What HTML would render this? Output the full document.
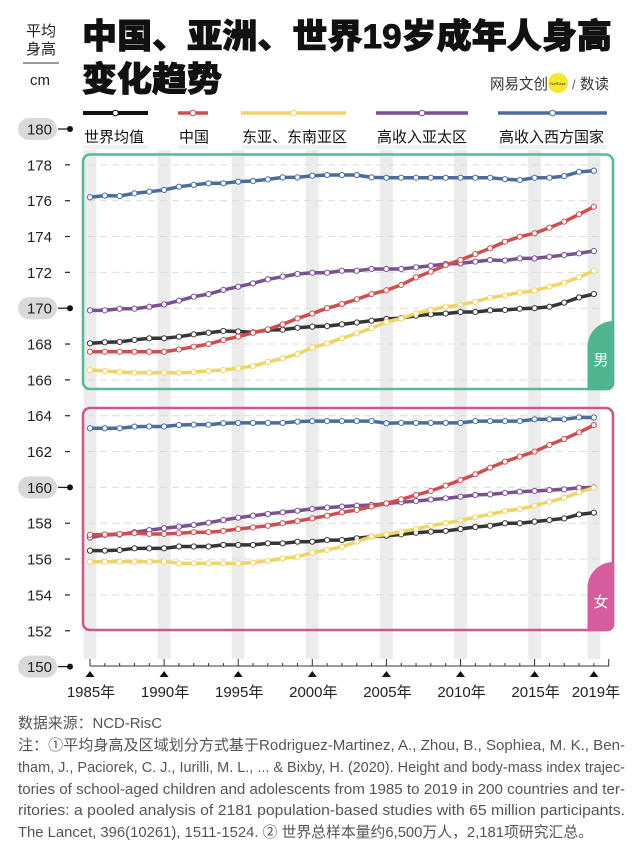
<!DOCTYPE html>
<html><head><meta charset="utf-8">
<style>
html,body{margin:0;padding:0;background:#fff;}
svg{display:block;}
text{font-family:"Liberation Sans","Noto Sans CJK SC",sans-serif;}
</style></head>
<body>
<svg id="s" width="640" height="855" viewBox="0 0 640 855" xmlns="http://www.w3.org/2000/svg">
<rect width="640" height="855" fill="#fff"/>
<!-- left unit label -->
<text x="41" y="36" font-size="15" text-anchor="middle" fill="#222">平均</text>
<text x="41" y="54" font-size="15" text-anchor="middle" fill="#222">身高</text>
<line x1="23" y1="63" x2="59" y2="63" stroke="#333" stroke-width="1"/>
<text x="40" y="85" font-size="15" text-anchor="middle" fill="#222">cm</text>
<!-- title -->
<text x="82" y="48" font-size="34" font-weight="900" fill="#111" stroke="#111" stroke-width="0.9" textLength="530" lengthAdjust="spacingAndGlyphs">中国、亚洲、世界19岁成年人身高</text>
<text x="82" y="91" font-size="34" font-weight="900" fill="#111" stroke="#111" stroke-width="0.9" textLength="140" lengthAdjust="spacingAndGlyphs">变化趋势</text>
<!-- logo -->
<text x="490" y="89" font-size="15" fill="#333" textLength="58" lengthAdjust="spacingAndGlyphs">网易文创</text>
<circle cx="558" cy="83" r="10" fill="#f6e62e"/>
<text x="558" y="85" font-size="4" text-anchor="middle" fill="#333">NetEase</text>
<text x="572" y="89" font-size="13" fill="#555">/</text>
<text x="580" y="89" font-size="15" fill="#333" textLength="29" lengthAdjust="spacingAndGlyphs">数读</text>
<g id="legend"></g>
<g id="bands"></g>
<g id="grid"></g>
<!-- boxes -->
<rect x="83" y="154.5" width="530" height="234.5" rx="7" fill="none" stroke="#5cb899" stroke-width="2.6"/>
<rect x="83" y="408" width="530" height="222" rx="7" fill="none" stroke="#c95a8f" stroke-width="2.6"/>
<g id="series"></g>
<path d="M587.5,390.3 V347 A26,26 0 0 1 613.5,321 H614.3 V383 A7,7 0 0 1 607,390.3 Z" fill="#50b48e"/>
<text x="601" y="365" font-size="15" text-anchor="middle" fill="#fff">男</text>
<path d="M587.5,631.3 V588 A26,26 0 0 1 613.5,562 H614.3 V624 A7,7 0 0 1 607,631.3 Z" fill="#d55c9d"/>
<text x="601" y="607" font-size="15" text-anchor="middle" fill="#fff">女</text>
<g id="yaxis"></g>
<g id="xaxis"></g>
<!-- footer -->
<g fill="#555" font-size="15">
<text x="18" y="728" textLength="144" lengthAdjust="spacingAndGlyphs">数据来源：NCD-RisC</text>
<text x="18" y="750" textLength="607" lengthAdjust="spacingAndGlyphs">注：①平均身高及区域划分方式基于Rodriguez-Martinez, A., Zhou, B., Sophiea, M. K., Ben-</text>
<text x="18" y="772" textLength="607" lengthAdjust="spacingAndGlyphs">tham, J., Paciorek, C. J., Iurilli, M. L., ... &amp; Bixby, H. (2020). Height and body-mass index trajec-</text>
<text x="18" y="794" textLength="607" lengthAdjust="spacingAndGlyphs">tories of school-aged children and adolescents from 1985 to 2019 in 200 countries and ter-</text>
<text x="18" y="815" textLength="607" lengthAdjust="spacingAndGlyphs">ritories: a pooled analysis of 2181 population-based studies with 65 million participants.</text>
<text x="18" y="837" textLength="575" lengthAdjust="spacingAndGlyphs">The Lancet, 396(10261), 1511-1524. ② 世界总样本量约6,500万人，2,181项研究汇总。</text>
</g>
</svg>
<script>
(function(){
var NS="http://www.w3.org/2000/svg";
function el(tag,attrs,parent,txt){var e=document.createElementNS(NS,tag);for(var k in attrs)e.setAttribute(k,attrs[k]);if(txt!==undefined)e.textContent=txt;parent.appendChild(e);return e;}
function X(i){return 90+i*14.82;}
function Y(v){return 129+(180-v)*17.92;}
var C={black:"#363636",red:"#cf4f50",yellow:"#f1d466",purple:"#7a5193",blue:"#4a6c9e"};
// legend
var lg=document.getElementById("legend");
var L=[["black",83,148,"世界均值"],["red",178,208,"中国"],["yellow",241,346,"东亚、东南亚区"],["purple",376,468,"高收入亚太区"],["blue",498,607,"高收入西方国家"]];
L.forEach(function(l){
  var c=l[0]==="black"?"#111":C[l[0]];
  el("rect",{x:l[1],y:145,width:l[2]-l[1],height:4,fill:"#f0f0f0"},lg);
  el("line",{x1:l[1],y1:113,x2:l[2],y2:113,stroke:c,"stroke-width":l[0]==="black"?4:3.5},lg);
  el("circle",{cx:(l[1]+l[2])/2,cy:113,r:2.8,fill:"#fff",stroke:c,"stroke-width":1},lg);
  el("text",{x:l[1]+1,y:142,"font-size":15,fill:"#111"},lg,l[3]);
});
// bands
var bd=document.getElementById("bands");
[0,5,10,15,20,25,30,34].forEach(function(i){el("rect",{x:X(i)-6.5,y:150,width:13,height:509,fill:"#ececec"},bd);});
// grid
var gd=document.getElementById("grid");
[178,176,174,172,170,168,166,164,162,160,158,156,154].forEach(function(v){
  el("line",{x1:88,y1:Y(v),x2:604,y2:Y(v),stroke:"#dcdcdc","stroke-width":1,"stroke-dasharray":"7 5"},gd);
});
// series
var D={
m:{
blue:[176.19,176.28,176.26,176.41,176.5,176.6,176.78,176.88,176.97,176.97,177.06,177.1,177.19,177.3,177.3,177.39,177.43,177.43,177.43,177.3,177.28,177.28,177.28,177.28,177.28,177.28,177.28,177.28,177.2,177.15,177.28,177.28,177.37,177.61,177.67],
purple:[169.88,169.88,169.97,169.97,170.08,170.21,170.42,170.64,170.79,171.02,171.2,171.39,171.61,171.76,171.91,171.98,171.98,172.09,172.09,172.19,172.19,172.19,172.28,172.37,172.47,172.5,172.6,172.69,172.66,172.78,172.78,172.87,172.97,173.06,173.19],
black:[168.04,168.1,168.12,168.23,168.32,168.32,168.41,168.54,168.63,168.73,168.7,168.65,168.78,168.8,168.91,168.97,169.0,169.1,169.2,169.3,169.4,169.45,169.58,169.66,169.7,169.79,169.79,169.88,169.9,169.97,170.0,170.08,170.31,170.6,170.79],
yellow:[166.55,166.5,166.45,166.4,166.4,166.4,166.4,166.43,166.5,166.55,166.65,166.77,167.0,167.2,167.44,167.8,168.04,168.32,168.6,168.88,169.23,169.43,169.71,169.9,170.08,170.18,170.36,170.59,170.72,170.87,170.98,171.2,171.42,171.72,172.09],
red:[167.57,167.57,167.57,167.57,167.57,167.57,167.7,167.85,168.0,168.23,168.41,168.63,168.82,169.1,169.43,169.7,170.0,170.23,170.5,170.79,171.0,171.3,171.72,172.04,172.4,172.69,173.02,173.34,173.71,173.99,174.18,174.49,174.83,175.24,175.66]
},
f:{
blue:[163.3,163.3,163.3,163.39,163.4,163.4,163.48,163.5,163.5,163.58,163.6,163.6,163.6,163.6,163.67,163.7,163.7,163.7,163.7,163.7,163.58,163.6,163.6,163.6,163.6,163.6,163.7,163.7,163.7,163.7,163.8,163.8,163.8,163.91,163.9],
purple:[157.2,157.35,157.37,157.5,157.62,157.72,157.81,157.9,158.03,158.18,158.31,158.42,158.52,158.61,158.7,158.8,158.87,158.93,158.98,159.02,159.1,159.17,159.24,159.32,159.39,159.48,159.58,159.61,159.69,159.76,159.8,159.85,159.89,159.98,160.0],
black:[156.47,156.47,156.5,156.6,156.6,156.6,156.7,156.7,156.7,156.79,156.79,156.79,156.88,156.88,156.97,156.97,157.06,157.06,157.16,157.25,157.3,157.38,157.47,157.53,157.57,157.68,157.79,157.86,158.0,158.0,158.09,158.18,158.27,158.49,158.59],
yellow:[155.85,155.85,155.85,155.85,155.85,155.87,155.76,155.76,155.76,155.76,155.76,155.8,155.9,156.04,156.13,156.36,156.51,156.69,156.97,157.25,157.38,157.53,157.68,157.86,158.0,158.16,158.33,158.5,158.68,158.79,158.98,159.2,159.42,159.73,159.98],
red:[157.35,157.37,157.4,157.44,157.4,157.4,157.44,157.5,157.5,157.57,157.68,157.77,157.86,158.0,158.12,158.27,158.42,158.61,158.74,158.93,159.11,159.33,159.58,159.8,160.1,160.41,160.73,161.1,161.44,161.72,162.0,162.37,162.7,163.07,163.48]
}};
var sg=document.getElementById("series");
["m","f"].forEach(function(g){
  ["blue","purple","black","yellow","red"].forEach(function(k){
    var arr=D[g][k],pts=[];
    for(var i=0;i<arr.length;i++)pts.push(X(i).toFixed(2)+","+Y(arr[i]).toFixed(2));
    el("polyline",{points:pts.join(" "),fill:"none",stroke:C[k],"stroke-width":3.5,"stroke-linejoin":"round","stroke-linecap":"round"},sg);
    for(var j=0;j<arr.length;j++)el("circle",{cx:X(j),cy:Y(arr[j]),r:2.6,fill:"#fff",stroke:C[k],"stroke-width":1},sg);
  });
});
// y axis
var ya=document.getElementById("yaxis");
for(var v=180;v>=150;v-=2){
  var y=Y(v);
  if(v%10===0){
    el("rect",{x:18,y:y-11,width:39,height:22,rx:11,fill:"#d9d9d9"},ya);
    el("line",{x1:58,y1:y,x2:70,y2:y,stroke:"#222","stroke-width":1.3},ya);
    el("circle",{cx:70,cy:y,r:3,fill:"#111"},ya);
  }else{
    el("line",{x1:65,y1:y,x2:70,y2:y,stroke:"#333","stroke-width":1.3},ya);
  }
  el("text",{x:52,y:y+5.5,"font-size":15,"text-anchor":"end",fill:"#222"},ya,String(v));
}
// x axis
var xa=document.getElementById("xaxis");
el("line",{x1:90,y1:666,x2:609,y2:666,stroke:"#333","stroke-width":1},xa);
for(var i=0;i<=35;i++){
  var major=(i%5===0);
  el("line",{x1:X(i),y1:major?659:663,x2:X(i),y2:666,stroke:"#333","stroke-width":1},xa);
}
[[0,"1985年"],[5,"1990年"],[10,"1995年"],[15,"2000年"],[20,"2005年"],[25,"2010年"],[30,"2015年"],[34,"2019年"]].forEach(function(t){
  var x=X(t[0]);
  el("polygon",{points:(x-4.5)+",677 "+x+",671 "+(x+4.5)+",677",fill:"#111"},xa);
  el("text",{x:x+(t[0]===34?2:1),y:697,"font-size":15,"text-anchor":"middle",fill:"#222"},xa,t[1]);
});
})();
</script>
</body></html>
